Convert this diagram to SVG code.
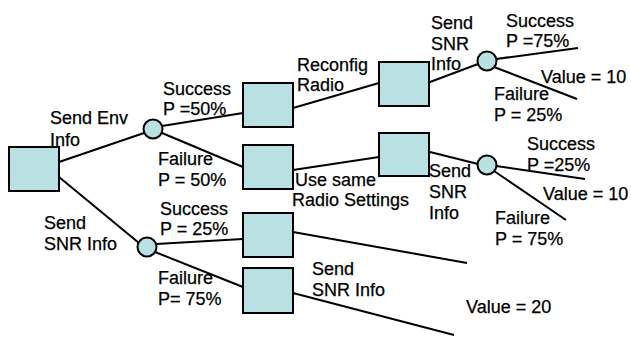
<svg xmlns="http://www.w3.org/2000/svg" width="631" height="337" viewBox="0 0 631 337">
<style>
.n{fill:#b9e0e3;stroke:#000;stroke-width:2}
.c line{stroke:#000;stroke-width:2}
text{font-family:"Liberation Sans",Arial,sans-serif;font-size:18px;fill:#000;stroke:#000;stroke-width:0.25}
</style>
<rect width="631" height="337" fill="#fff"/>
<g class="c" id="connectors">
<line x1="59" y1="162" x2="144" y2="133"/>
<line x1="59" y1="177" x2="139" y2="243"/>
<line x1="162" y1="126" x2="243" y2="113"/>
<line x1="162" y1="133" x2="243" y2="167"/>
<line x1="293" y1="108" x2="379" y2="83"/>
<line x1="293" y1="170" x2="379" y2="157"/>
<line x1="430" y1="82" x2="478" y2="64"/>
<line x1="496" y1="59" x2="578" y2="48"/>
<line x1="494" y1="67" x2="577" y2="99"/>
<line x1="430" y1="152" x2="478" y2="164"/>
<line x1="496" y1="166" x2="585" y2="179"/>
<line x1="494" y1="171" x2="566" y2="220"/>
<line x1="156" y1="244" x2="243" y2="239"/>
<line x1="155" y1="252" x2="243" y2="287"/>
<line x1="293" y1="232" x2="467" y2="263"/>
<line x1="293" y1="293" x2="454" y2="335"/>
</g>
<g id="root"><rect class="n" x="9" y="147" width="50" height="44"/></g>
<g id="chance1"><circle class="n" cx="153" cy="129" r="9.5"/></g>
<g id="chance2"><circle class="n" cx="147" cy="247" r="9.5"/></g>
<g id="sq2"><rect class="n" x="243" y="83" width="50" height="44"/></g>
<g id="sq3"><rect class="n" x="243" y="145" width="50" height="44"/></g>
<g id="sq4"><rect class="n" x="379" y="62" width="50" height="44"/></g>
<g id="sq5"><rect class="n" x="379" y="133" width="50" height="43"/></g>
<g id="sq6"><rect class="n" x="243" y="213" width="50" height="44"/></g>
<g id="sq7"><rect class="n" x="243" y="268" width="50" height="45"/></g>
<g id="chance3"><circle class="n" cx="487" cy="61" r="9.5"/></g>
<g id="chance4"><circle class="n" cx="487" cy="165" r="9.5"/></g>
<g id="labels">
<text x="50" y="124">Send Env</text>
<text x="50" y="146">Info</text>
<text x="44" y="229">Send</text>
<text x="44" y="250">SNR Info</text>
<text x="163" y="95">Success</text>
<text x="163" y="115">P =50%</text>
<text x="158" y="165">Failure</text>
<text x="158" y="186">P = 50%</text>
<text x="160" y="215">Success</text>
<text x="160" y="235">P = 25%</text>
<text x="158" y="284">Failure</text>
<text x="158" y="305">P= 75%</text>
<text x="297" y="71">Reconfig</text>
<text x="297" y="91">Radio</text>
<text x="295" y="186">Use same</text>
<text x="292" y="206">Radio Settings</text>
<text x="431" y="29">Send</text>
<text x="431" y="50">SNR</text>
<text x="431" y="70">Info</text>
<text x="506" y="27">Success</text>
<text x="506" y="47">P =75%</text>
<text x="541" y="83">Value = 10</text>
<text x="494" y="100">Failure</text>
<text x="494" y="121">P = 25%</text>
<text x="429" y="177">Send</text>
<text x="429" y="198">SNR</text>
<text x="429" y="219">Info</text>
<text x="527" y="150">Success</text>
<text x="527" y="171">P =25%</text>
<text x="543" y="200">Value = 10</text>
<text x="495" y="224">Failure</text>
<text x="495" y="245">P = 75%</text>
<text x="312" y="275">Send</text>
<text x="312" y="296">SNR Info</text>
<text x="466" y="313">Value = 20</text>
</g>
</svg>
